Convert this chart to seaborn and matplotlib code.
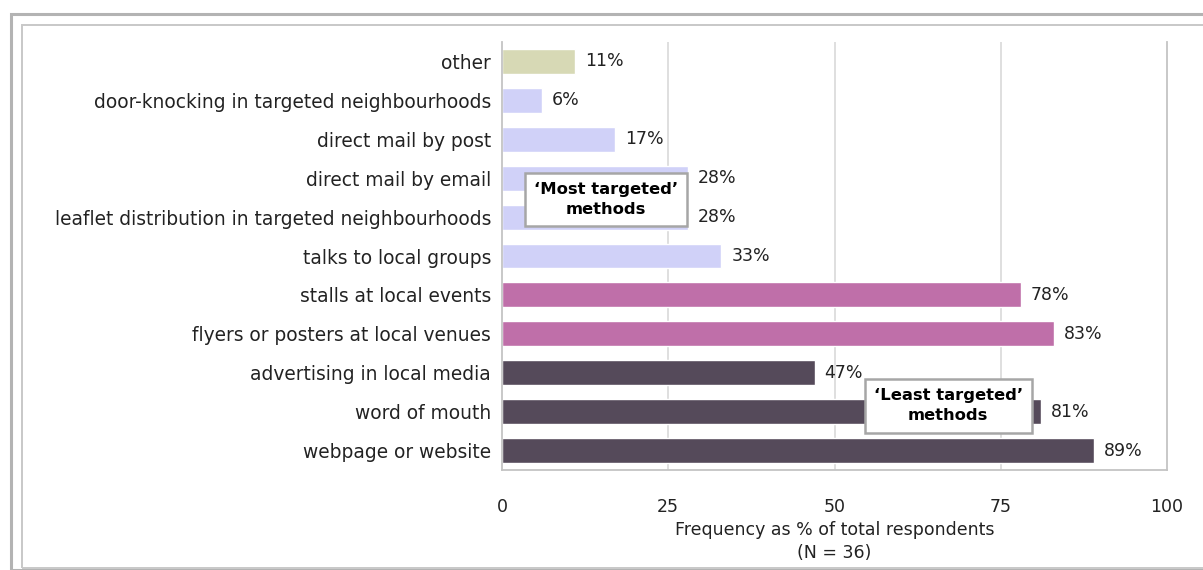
import matplotlib
matplotlib.use("Agg")
import matplotlib.pyplot as plt
from matplotlib.patches import Rectangle
import seaborn as sns
import pandas as pd

categories = [
    "other",
    "door-knocking in targeted neighbourhoods",
    "direct mail by post",
    "direct mail by email",
    "leaflet distribution in targeted neighbourhoods",
    "talks to local groups",
    "stalls at local events",
    "flyers or posters at local venues",
    "advertising in local media",
    "word of mouth",
    "webpage or website",
]
values = [11, 6, 17, 28, 28, 33, 78, 83, 47, 81, 89]
bar_colors = [
    "#d7d9b5",
    "#d0d1f8", "#d0d1f8", "#d0d1f8", "#d0d1f8", "#d0d1f8",
    "#bf6fa9", "#bf6fa9",
    "#554a5a", "#554a5a", "#554a5a",
]
x_ticks = [0, 25, 50, 75, 100]
x_label = "Frequency as % of total respondents\n(N = 36)"

sns.set_theme(style="white")
plt.rcParams["font.family"] = ["DejaVu Sans"]
text_color = "#222222"

df = pd.DataFrame({"method": categories, "pct": values})

fig = plt.figure(figsize=(12.03, 5.70), dpi=100)
ax = fig.add_axes([502 / 1203, 100 / 570, 665 / 1203, 428 / 570])

sns.barplot(
    data=df, x="pct", y="method", hue="method",
    palette=dict(zip(categories, bar_colors)),
    legend=False, orient="h", width=0.64, saturation=1, ax=ax,
)

ax.set_xlim(0, 100)
ax.set_ylim(len(categories) - 0.5, -0.5)
ax.set_xticks(x_ticks)
ax.set_xticklabels([str(t) for t in x_ticks])
ax.set_ylabel("")
ax.set_xlabel(x_label, fontsize=12.5, color=text_color, labelpad=4, linespacing=1.35)
ax.tick_params(axis="x", length=0, pad=20, labelsize=12.5, labelcolor=text_color)
ax.tick_params(axis="y", length=0, pad=8, labelsize=13.4, labelcolor=text_color)

for t in [25, 50, 75]:
    ax.axvline(t, color="#d9d9d9", lw=1.2, zorder=0)
ax.set_axisbelow(True)

for side in ["left", "right", "bottom"]:
    ax.spines[side].set_color("#c4c4c4")
    ax.spines[side].set_linewidth(1.3)
ax.spines["top"].set_visible(False)

for i, v in enumerate(values):
    ax.text(v + 1.5, i, f"{v}%", va="center", ha="left",
            fontsize=12.5, color=text_color)

box_style = dict(boxstyle="square,pad=0.55", fc="white", ec="#a6a6a6", lw=1.8)
ax.text(15.6, 3.55, "\u2018Most targeted\u2019\nmethods", ha="center", va="center",
        fontsize=11.8, fontweight="bold", color="black", bbox=box_style,
        linespacing=1.45, zorder=5)
ax.text(67.1, 8.85, "\u2018Least targeted\u2019\nmethods", ha="center", va="center",
        fontsize=11.8, fontweight="bold", color="black", bbox=box_style,
        linespacing=1.45, zorder=5)

# chart frames
W, H = 1203, 570
fig.patches.append(Rectangle((11 / W, 0), 1.2, (H - 14) / H, transform=fig.transFigure,
                             fill=False, ec="#b3b3b3", lw=2.2, zorder=0))
fig.patches.append(Rectangle((22 / W, (H - 568) / H), 1.2, (568 - 25) / H,
                             transform=fig.transFigure, fill=False, ec="#c8c8c8",
                             lw=1.4, zorder=0))

fig.savefig("out.png", dpi=100)
